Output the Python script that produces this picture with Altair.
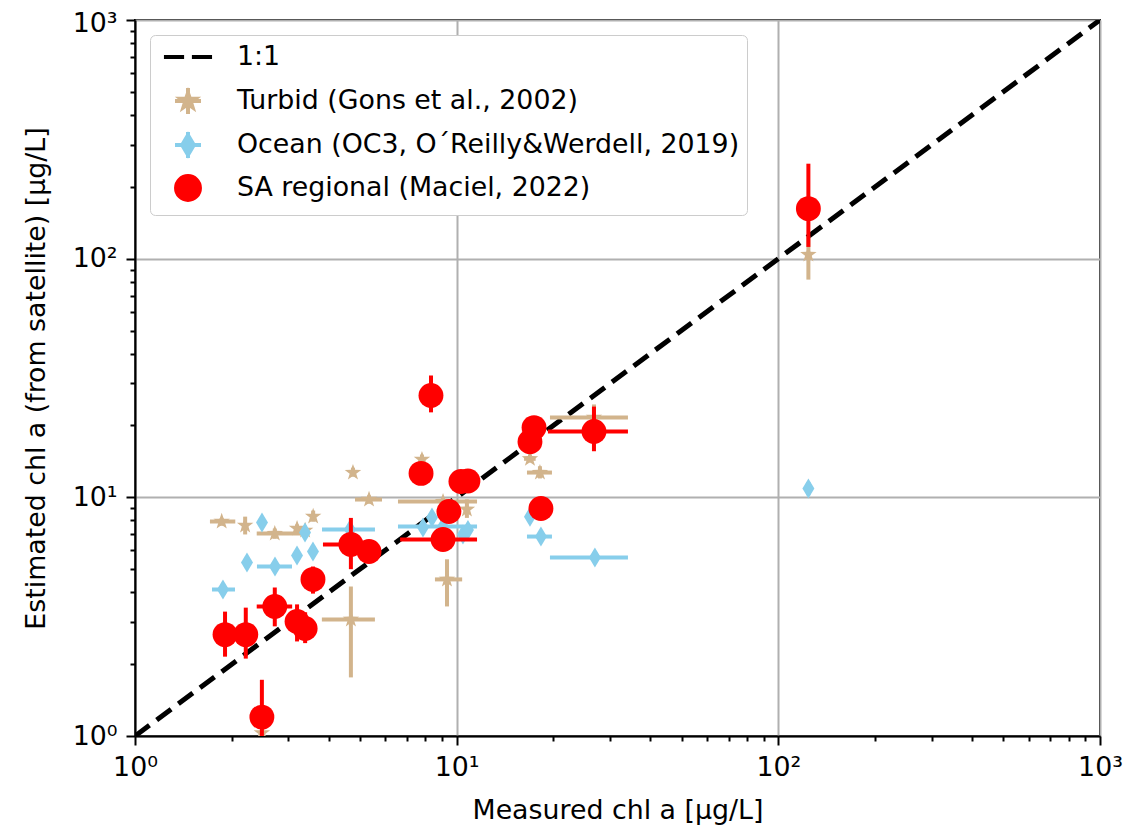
import altair as alt
import pandas as pd

FONT = "DejaVu Sans"
FS = 26.8

# ---- Turbid (Gons et al., 2002)
turbid_x   = [1.86, 2.20, 2.48, 2.72, 3.19, 3.38, 3.58, 4.69, 4.76, 5.34, 7.80, 9.07, 9.33, 10.76, 16.9, 18.15, 26.72, 124.0]
turbid_xlo = [1.71, 2.15, 2.45, 2.39, 3.12, 3.30, 3.50, 3.81, 4.70, 4.83, 7.60, 6.57, 8.56, 10.50, 16.2, 16.54, 19.50, 121.0]
turbid_xhi = [2.05, 2.25, 2.52, 3.33, 3.26, 3.46, 3.65, 5.57, 4.82, 5.86, 8.00, 11.57, 10.40, 11.00, 17.6, 19.78, 34.08, 127.0]
turbid_y   = [7.92, 7.62, 1.03, 7.05, 7.40, 7.26, 8.31, 3.08, 12.7, 9.79, 14.4, 9.60, 4.53, 8.90, 14.5, 12.7, 21.6, 104.0]
turbid_ylo = [7.60, 6.99, 1.00, 6.70, 7.10, 7.00, 7.90, 1.76, 12.2, 9.40, 13.8, 9.30, 3.49, 8.20, 14.0, 12.0, 20.5, 81.7]
turbid_yhi = [8.20, 8.30, 1.06, 7.40, 7.70, 7.50, 8.80, 4.23, 13.3, 10.2, 15.1, 9.90, 5.50, 9.80, 15.1, 13.5, 24.5, 123.8]

# ---- Ocean (OC3, O´Reilly&Werdell, 2019)
ocean_x   = [1.877, 2.229, 2.482, 2.724, 3.189, 3.377, 3.575, 4.659, 7.857, 8.38, 9.07, 10.46, 10.84, 16.9, 18.28, 26.9, 124.0]
ocean_xlo = [1.735, 2.18, 2.44, 2.394, 3.13, 3.31, 3.51, 3.814, 7.70, 8.20, 6.57, 10.20, 10.60, 16.5, 16.54, 19.5, 121.0]
ocean_xhi = [2.046, 2.28, 2.52, 3.076, 3.25, 3.44, 3.64, 5.572, 8.00, 8.55, 11.57, 10.70, 11.10, 17.3, 19.78, 34.08, 127.0]
ocean_y   = [4.11, 5.33, 7.84, 5.13, 5.70, 7.12, 5.93, 7.33, 7.47, 8.23, 7.54, 6.99, 7.30, 8.30, 6.85, 5.59, 10.89]
ocean_ylo = [3.95, 5.10, 7.55, 4.93, 5.45, 6.85, 5.70, 7.05, 7.20, 7.90, 7.25, 6.70, 7.00, 8.00, 6.55, 5.35, 10.20]
ocean_yhi = [4.28, 5.55, 8.15, 5.33, 5.95, 7.40, 6.18, 7.62, 7.75, 8.55, 7.85, 7.28, 7.60, 8.60, 7.15, 5.85, 11.60]

# ---- SA regional (Maciel, 2022)
sa_x   = [1.905, 2.21, 2.48, 2.72, 3.19, 3.38, 3.575, 4.69, 5.34, 7.75, 8.32, 9.07, 9.46, 10.31, 10.84, 16.9, 17.4, 18.28, 26.72, 124.0]
sa_xlo = [1.85, 2.15, 2.42, 2.39, 3.10, 3.30, 3.48, 3.84, 5.20, 7.55, 8.10, 6.67, 9.20, 10.05, 10.55, 16.5, 17.0, 17.8, 19.22, 121.0]
sa_xhi = [1.96, 2.27, 2.54, 3.08, 3.28, 3.46, 3.67, 5.65, 5.48, 7.95, 8.55, 11.57, 9.72, 10.57, 11.13, 17.3, 17.8, 18.75, 34.08, 127.0]
sa_y   = [2.66, 2.66, 1.20, 3.49, 3.02, 2.82, 4.53, 6.35, 5.93, 12.6, 26.7, 6.66, 8.72, 11.65, 11.70, 17.1, 19.6, 8.98, 18.87, 162.0]
sa_ylo = [2.15, 2.11, 1.00, 2.88, 2.49, 2.45, 3.95, 5.00, 5.30, 11.4, 22.7, 6.20, 8.00, 10.8, 10.9, 15.9, 18.5, 8.40, 15.6, 112.0]
sa_yhi = [3.32, 3.45, 1.72, 4.19, 3.56, 3.30, 5.13, 8.20, 6.60, 13.9, 32.4, 7.10, 9.50, 12.6, 12.6, 18.4, 20.8, 9.60, 24.0, 250.0]

one_to_one = [1, 1000]

series = ["1:1", "Turbid (Gons et al., 2002)", "Ocean (OC3, O\u00b4Reilly&Werdell, 2019)", "SA regional (Maciel, 2022)"]
colors = ["black", "tan", "skyblue", "red"]

tick_values = [1, 2, 3, 4, 5, 6, 7, 8, 9, 10, 20, 30, 40, 50, 60, 70, 80, 90,
               100, 200, 300, 400, 500, 600, 700, 800, 900, 1000]
major_test = "indexof([1, 10, 100, 1000], datum.value) >= 0"
label_expr = ("datum.value == 1 ? '10\u2070' : datum.value == 10 ? '10\u00b9' : "
              "datum.value == 100 ? '10\u00b2' : datum.value == 1000 ? '10\u00b3' : ''")

STAR = ("M0,-1L0.235,-0.324L0.951,-0.309L0.38,0.124L0.588,0.809L0,0.4"
        "L-0.588,0.809L-0.38,0.124L-0.951,-0.309L-0.235,-0.324Z")
DIAMOND = "M0,-1L0.6,0L0,1L-0.6,0Z"


def make_axis(title, tpad, label_offset=0):
    return alt.Axis(
        values=tick_values, labelExpr=label_expr, title=title,
        grid=True, gridColor="#b0b0b0", gridWidth=2,
        gridOpacity={"condition": {"test": major_test, "value": 1}, "value": 0},
        tickSize={"condition": {"test": major_test, "value": 9}, "value": 5},
        tickWidth=2, tickColor="black", domainColor="black", domainWidth=2,
        labelFont=FONT, labelFontSize=FS, labelColor="black", labelPadding=9,
        labelOffset={"condition": {"test": "datum.value == 1000", "value": label_offset}, "value": 0},
        labelOverlap=False, labelFlush=False,
        titleFont=FONT, titleFontSize=FS, titleFontWeight="normal", titleColor="black",
        titlePadding=tpad,
    )


xs = alt.Scale(type="log", domain=[1, 1000], nice=False)
ys = alt.Scale(type="log", domain=[1, 1000], nice=False)
X_AX = make_axis("Measured chl a [\u03bcg/L]", 17)
Y_AX = make_axis("Estimated chl a (from satellite) [\u03bcg/L]", 22, 3)


def series_layers(x, xlo, xhi, y, ylo, yhi, color, shape, size):
    df = pd.DataFrame({"x": x, "xlo": xlo, "xhi": xhi, "y": y, "ylo": ylo, "yhi": yhi})
    base = alt.Chart(df)
    hbar = base.mark_rule(color=color, strokeWidth=4, clip=True).encode(
        x=alt.X("xlo:Q", scale=xs, axis=X_AX), x2="xhi:Q", y=alt.Y("y:Q", scale=ys, axis=Y_AX))
    vbar = base.mark_rule(color=color, strokeWidth=4, clip=True).encode(
        x=alt.X("x:Q", scale=xs, axis=X_AX), y=alt.Y("ylo:Q", scale=ys, axis=Y_AX), y2="yhi:Q")
    pts = base.mark_point(filled=True, color=color, shape=shape, size=size, opacity=1, clip=True).encode(
        x=alt.X("x:Q", scale=xs, axis=X_AX), y=alt.Y("y:Q", scale=ys, axis=Y_AX))
    return [hbar, vbar, pts]


line_df = pd.DataFrame({"x": one_to_one, "y": one_to_one})
line = alt.Chart(line_df).mark_line(color="black", strokeWidth=5, strokeDash=[18, 9], clip=True).encode(
    x=alt.X("x:Q", scale=xs, axis=X_AX), y=alt.Y("y:Q", scale=ys, axis=Y_AX))

# legend layer (hidden points, only drives the legend)
LEG_SHAPES = [
    "M-1.85,0L-0.3,0M0.3,0L1.85,0M0,-1L0,-1M0,1L0,1",
    "M-1,0L1,0M0,-1L0,1M0,-0.6L0.141,-0.194L0.571,-0.185L0.228,0.074L0.353,0.485L0,0.24"
    "L-0.353,0.485L-0.228,0.074L-0.571,-0.185L-0.141,-0.194Z",
    "M-1,0L1,0M0,-1L0,1M0,-0.75L0.45,0L0,0.75L-0.45,0Z",
    "M-0.92,0A0.92,0.92,0,1,1,0.92,0A0.92,0.92,0,1,1,-0.92,0Z",
]
leg = alt.Legend(
    title=None, orient="none", legendX=15, legendY=15,
    labelFont=FONT, labelFontSize=FS, labelColor="black", labelLimit=1000,
    symbolSize=676, symbolStrokeWidth=4, symbolOpacity=1, symbolOffset=16, labelOffset=34,
    rowPadding=2, padding=7, strokeColor="#cccccc", fillColor="white", cornerRadius=5,
)
leg_df = pd.DataFrame({"series": series})
legend_layer = alt.Chart(leg_df).mark_point(filled=True, clip=True, opacity=1).encode(
    x=alt.value(-500), y=alt.value(-500),
    fill=alt.Fill("series:N", scale=alt.Scale(domain=series, range=colors), legend=leg),
    stroke=alt.Stroke("series:N", scale=alt.Scale(domain=series, range=colors), legend=leg),
    shape=alt.Shape("series:N", scale=alt.Scale(domain=series, range=LEG_SHAPES), legend=leg),
)

layers = [line]
layers += series_layers(turbid_x, turbid_xlo, turbid_xhi, turbid_y, turbid_ylo, turbid_yhi, "tan", STAR, 300)
layers += series_layers(ocean_x, ocean_xlo, ocean_xhi, ocean_y, ocean_ylo, ocean_yhi, "skyblue", DIAMOND, 400)
layers += series_layers(sa_x, sa_xlo, sa_xhi, sa_y, sa_ylo, sa_yhi, "red", "circle", 620)
layers.append(legend_layer)

chart = alt.layer(*layers).properties(
    width=965, height=716,
    autosize=alt.AutoSizeParams(type="none"),
    padding={"left": 127, "top": 12, "right": 30, "bottom": 91},
).configure_view(stroke="black", strokeWidth=2)

chart.save("out.html", embed_options={"renderer": "svg", "actions": False})
